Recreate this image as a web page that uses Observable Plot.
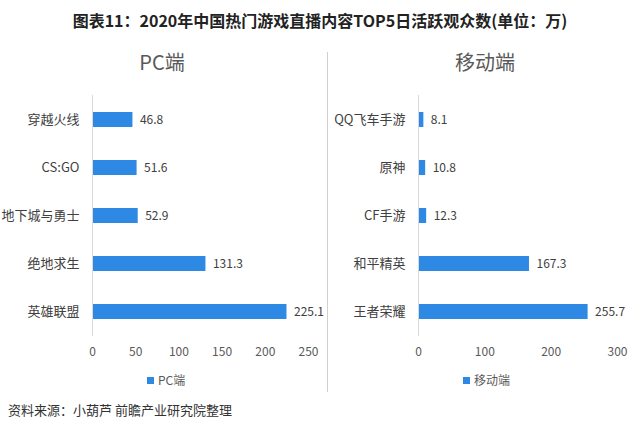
<!DOCTYPE html>
<html>
<head>
<meta charset="utf-8">
<script src="https://cdn.jsdelivr.net/npm/d3@7"></script>
<script src="https://cdn.jsdelivr.net/npm/@observablehq/plot@0.6"></script>
<style>
  html, body { margin: 0; padding: 0; background: #fff; }
  body { font-family: "Noto Sans CJK SC", "Noto Sans", sans-serif; }
  #wrap { position: relative; width: 640px; height: 431px; overflow: hidden; background: #fff; }
  .abs { position: absolute; white-space: nowrap; }
  #title { left: 0; width: 640px; top: 8px; text-align: center; font-size: 16px; font-weight: bold; color: #222; line-height: 24px; }
  .ptitle { top: 48px; font-size: 20px; color: #595959; line-height: 28px; transform: translateX(-50%); }
  .legend { top: 371px; font-size: 12px; color: #595959; line-height: 18px; display: flex; align-items: center; }
  .legend .sw { width: 7px; height: 7px; background: #2e89e4; margin-right: 4px; }
  #divider { left: 327px; top: 52px; width: 1px; height: 340px; background: #d0d0d0; }
  #source { left: 8px; top: 400px; font-size: 13px; color: #333; line-height: 20px; }
</style>
</head>
<body>
<div id="wrap">
  <div id="title" class="abs">图表11：2020年中国热门游戏直播内容TOP5日活跃观众数(单位：万)</div>
  <div class="abs ptitle" style="left:162px">PC端</div>
  <div class="abs ptitle" style="left:485px">移动端</div>
  <div id="divider" class="abs"></div>
  <div class="abs legend" style="left:147px"><span class="sw"></span><span>PC端</span></div>
  <div class="abs legend" style="left:463px"><span class="sw"></span><span>移动端</span></div>
  <div id="source" class="abs">资料来源：小葫芦 前瞻产业研究院整理</div>
</div>
<script>
const pcGames = ["穿越火线", "CS:GO", "地下城与勇士", "绝地求生", "英雄联盟"];
const pcValues = [46.8, 51.6, 52.9, 131.3, 225.1];
const pcTicks = [0, 50, 100, 150, 200, 250];

const mobileGames = ["QQ飞车手游", "原神", "CF手游", "和平精英", "王者荣耀"];
const mobileValues = [8.1, 10.8, 12.3, 167.3, 255.7];
const mobileTicks = [0, 100, 200, 300];

const barColor = "#2e89e4";

function panel(games, values, ticks, xmax, opts) {
  const data = games.map((g, i) => ({game: g, value: values[i]}));
  return Plot.plot({
    width: opts.width,
    height: 280,
    marginLeft: opts.marginLeft,
    marginRight: opts.marginRight,
    marginTop: 5,
    marginBottom: 34,
    style: {fontFamily: "'Noto Sans CJK SC', sans-serif", background: "transparent", overflow: "visible"},
    x: {domain: [0, xmax], ticks: ticks, label: null},
    y: {domain: games, paddingInner: 0.69, paddingOuter: 0.33, label: null},
    marks: [
      Plot.barX(data, {x: "value", y: "game", fill: barColor}),
      Plot.text(data, {x: "value", y: "game", text: d => d.value.toFixed(1), textAnchor: "start", dx: 7, fontSize: 12, fill: "#404040"}),
      Plot.ruleX([0], {stroke: "#d9d9d9", strokeWidth: 1}),
      Plot.axisX({ticks: ticks, tickSize: 0, tickPadding: 11, fontSize: 12, color: "#595959", label: null}),
      Plot.axisY({tickSize: 0, tickPadding: 13, fontSize: 13, color: "#404040", label: null})
    ]
  });
}

const left = panel(pcGames, pcValues, pcTicks, 250, {width: 328, marginLeft: 92, marginRight: 20});
left.style.position = "absolute"; left.style.left = "0px"; left.style.top = "90px";
const right = panel(mobileGames, mobileValues, mobileTicks, 300, {width: 312, marginLeft: 90, marginRight: 23});
right.style.position = "absolute"; right.style.left = "328px"; right.style.top = "90px";
const wrap = document.getElementById("wrap");
wrap.appendChild(left);
wrap.appendChild(right);
</script>
</body>
</html>
